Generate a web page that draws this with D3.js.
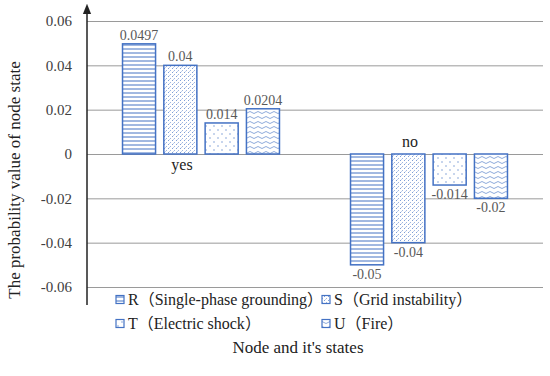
<!DOCTYPE html>
<html>
<head>
<meta charset="utf-8">
<script src="https://cdn.jsdelivr.net/npm/d3@7"></script>
<style>
  body { margin: 0; background: #fff; }
  svg text { font-family: "Liberation Serif", serif; }
  svg tspan.cjk { font-family: "Noto Sans CJK SC", sans-serif; }
</style>
</head>
<body>
<div id="vis"></div>
<script>
// Data
const CATEGORIES = ["yes", "no"];
const SERIES = ["R", "S", "T", "U"];
const SERIES_NAMES = ["Single-phase grounding", "Grid instability", "Electric shock", "Fire"];
const VALUES_YES = [0.0497, 0.04, 0.014, 0.0204];
const VALUES_NO = [-0.05, -0.04, -0.014, -0.02];
const LABELS_YES = ["0.0497", "0.04", "0.014", "0.0204"];
const LABELS_NO = ["-0.05", "-0.04", "-0.014", "-0.02"];
const Y_TICKS = [0.06, 0.04, 0.02, 0, -0.02, -0.04, -0.06];
const Y_TICK_LABELS = ["0.06", "0.04", "0.02", "0", "-0.02", "-0.04", "-0.06"];

const FRAME_WIDTH = 550;
const FRAME_HEIGHT = 376;
const BLUE = "#4472C4";
const SERIF = "'Liberation Serif', serif";

const FRAME = d3.select("#vis")
  .append("svg")
    .attr("width", FRAME_WIDTH)
    .attr("height", FRAME_HEIGHT);

// patterns
const defs = FRAME.append("defs");

let p = defs.append("pattern").attr("id", "pR").attr("patternUnits", "userSpaceOnUse")
  .attr("width", 6).attr("height", 4);
p.append("rect").attr("width", 6).attr("height", 4).attr("fill", "#fff");
p.append("line").attr("x1", 0).attr("x2", 6).attr("y1", 1).attr("y2", 1)
  .attr("stroke", BLUE).attr("stroke-width", 1);

p = defs.append("pattern").attr("id", "pS").attr("patternUnits", "userSpaceOnUse")
  .attr("width", 4).attr("height", 4);
p.append("rect").attr("width", 4).attr("height", 4).attr("fill", "#fff");
p.append("rect").attr("x", 0).attr("y", 0).attr("width", 1).attr("height", 1).attr("fill", "#7f9fd6");
p.append("rect").attr("x", 2).attr("y", 2).attr("width", 1).attr("height", 1).attr("fill", "#9fb6e0");
p.append("rect").attr("x", 1).attr("y", 3).attr("width", 1).attr("height", 1).attr("fill", "#c3d1ec");

p = defs.append("pattern").attr("id", "pT").attr("patternUnits", "userSpaceOnUse")
  .attr("width", 8).attr("height", 8);
p.append("rect").attr("width", 8).attr("height", 8).attr("fill", "#fff");
p.append("circle").attr("cx", 2).attr("cy", 2).attr("r", 0.8).attr("fill", "#7f9fd6");
p.append("circle").attr("cx", 6).attr("cy", 6).attr("r", 0.8).attr("fill", "#7f9fd6");

p = defs.append("pattern").attr("id", "pU").attr("patternUnits", "userSpaceOnUse")
  .attr("width", 8).attr("height", 5);
p.append("rect").attr("width", 8).attr("height", 5).attr("fill", "#fff");
p.append("path").attr("d", "M0,2.5 Q2,0.5 4,2.5 T8,2.5")
  .attr("fill", "none").attr("stroke", "#7f9fd6").attr("stroke-width", 0.9);

const FILLS = {R: "url(#pR)", S: "url(#pS)", T: "url(#pT)", U: "url(#pU)"};

// Scales
const X_SCALE = d3.scaleBand()
  .domain(CATEGORIES)
  .range([87, 543]);

const X_SUB = d3.scaleBand()
  .domain(SERIES)
  .range([0, X_SCALE.bandwidth()])
  .paddingInner(0.2)
  .paddingOuter(0.86);

const Y_SCALE = d3.scaleLinear()
  .domain([-0.06, 0.06])
  .range([287, 21]);

// gridlines
FRAME.append("g")
  .selectAll("line")
  .data(Y_TICKS)
  .enter()
  .append("line")
    .attr("x1", 87)
    .attr("x2", 543)
    .attr("y1", d => Y_SCALE(d) + 0.5)
    .attr("y2", d => Y_SCALE(d) + 0.5)
    .attr("stroke", "#9a9a9a")
    .attr("stroke-width", 1);

// y axis
const yAxis = FRAME.append("g")
  .attr("transform", "translate(87,0)")
  .call(d3.axisLeft(Y_SCALE).tickValues(Y_TICKS).tickSize(0).tickPadding(15)
    .tickFormat((d, i) => Y_TICK_LABELS[i]))
  .attr("font-family", SERIF);
yAxis.select(".domain").remove();
yAxis.selectAll("text")
  .attr("font-size", "15px")
  .attr("fill", "#404040")
  .style("font-family", SERIF);

defs.append("marker").attr("id", "arrow").attr("viewBox", "0 0 10 10")
  .attr("refX", 5).attr("refY", 5).attr("markerWidth", 7).attr("markerHeight", 7)
  .attr("orient", "auto")
  .append("path").attr("d", "M0,1 L10,5 L0,9 Z").attr("fill", "#222");

FRAME.append("line")
  .attr("x1", 87).attr("x2", 87)
  .attr("y1", 305).attr("y2", 9)
  .attr("stroke", "#222").attr("stroke-width", 1.5)
  .attr("marker-end", "url(#arrow)");

// bars
const barData = [];
SERIES.forEach((s, i) => {
  barData.push({cat: "yes", s: s, v: VALUES_YES[i], label: LABELS_YES[i]});
  barData.push({cat: "no", s: s, v: VALUES_NO[i], label: LABELS_NO[i]});
});

FRAME.append("g")
  .selectAll("rect")
  .data(barData)
  .enter()
  .append("rect")
    .attr("x", d => X_SCALE(d.cat) + X_SUB(d.s))
    .attr("y", d => Y_SCALE(Math.max(0, d.v)))
    .attr("width", X_SUB.bandwidth())
    .attr("height", d => Math.abs(Y_SCALE(d.v) - Y_SCALE(0)))
    .attr("fill", d => FILLS[d.s])
    .attr("stroke", BLUE)
    .attr("stroke-width", 1.5);

// value labels
FRAME.append("g")
  .selectAll("text")
  .data(barData)
  .enter()
  .append("text")
    .attr("x", d => X_SCALE(d.cat) + X_SUB(d.s) + X_SUB.bandwidth() / 2)
    .attr("y", d => d.v > 0 ? Y_SCALE(d.v) - 4 : Y_SCALE(d.v) + 14)
    .attr("text-anchor", "middle")
    .attr("font-size", "14px")
    .attr("fill", "#595959")
    .style("font-family", SERIF)
    .text(d => d.label);

// category labels near the zero line
FRAME.append("text")
  .attr("x", X_SCALE("yes") + X_SCALE.bandwidth() / 2 - 19)
  .attr("y", Y_SCALE(0) + 16)
  .attr("text-anchor", "middle")
  .attr("font-size", "16px")
  .attr("fill", "#222")
  .text(CATEGORIES[0]);

FRAME.append("text")
  .attr("x", X_SCALE("no") + X_SCALE.bandwidth() / 2 - 19)
  .attr("y", Y_SCALE(0) - 7)
  .attr("text-anchor", "middle")
  .attr("font-size", "16px")
  .attr("fill", "#222")
  .text(CATEGORIES[1]);

// legend
const legend = FRAME.append("g");
const legX = [116, 322];
const legY = [300, 324];
SERIES.forEach((s, i) => {
  const gx = legX[i % 2];
  const gy = legY[Math.floor(i / 2)];
  legend.append("rect")
    .attr("x", gx).attr("y", gy - 4.5)
    .attr("width", 8).attr("height", 8)
    .attr("fill", FILLS[s])
    .attr("stroke", BLUE)
    .attr("stroke-width", 1.2);
  const t = legend.append("text")
    .attr("x", gx + 12)
    .attr("y", gy + 5)
    .attr("font-size", "16px")
    .attr("fill", "#222");
  t.append("tspan").text(s);
  t.append("tspan").attr("class", "cjk").text("（");
  t.append("tspan").text(SERIES_NAMES[i]);
  t.append("tspan").attr("class", "cjk").text("）");
});

// axis titles
FRAME.append("text")
  .attr("x", 298)
  .attr("y", 353)
  .attr("text-anchor", "middle")
  .attr("font-size", "17px")
  .attr("fill", "#222")
  .text("Node and it's states");

FRAME.append("text")
  .attr("transform", "translate(20,180) rotate(-90)")
  .attr("text-anchor", "middle")
  .attr("font-size", "17px")
  .attr("fill", "#222")
  .text("The probability value of  node state");
</script>
</body>
</html>
